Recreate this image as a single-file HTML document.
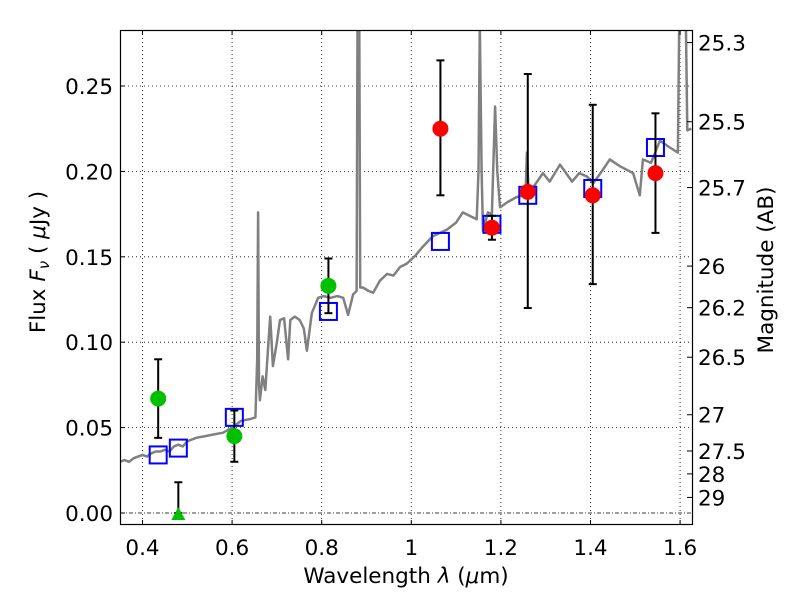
<!DOCTYPE html>
<html><head><meta charset="utf-8"><style>
body{margin:0;background:#fff;font-family:"DejaVu Sans","Liberation Sans",sans-serif}
svg text{font-family:"DejaVu Sans","Liberation Sans",sans-serif;font-size:21.5px;fill:#000}
</style></head><body>
<svg id="chart" width="800" height="600" xmlns="http://www.w3.org/2000/svg">
<g id="grid"></g>
<g id="spec"></g>
<g id="marks"></g>
<rect x="120.5" y="30.5" width="572" height="494" fill="none" stroke="#000" stroke-width="1.2"/>
<g id="axes"></g>
<text x="406" y="583" text-anchor="middle">Wavelength  <tspan font-style="italic">λ</tspan> (<tspan font-style="italic">μ</tspan>m)</text>
<text transform="translate(45,262) rotate(-90)" text-anchor="middle">Flux  <tspan font-style="italic">F<tspan font-size="15" dy="4">ν</tspan></tspan><tspan dy="-4">  (  </tspan><tspan font-style="italic">μ</tspan>Jy )</text>
<text transform="translate(773,270) rotate(-90)" text-anchor="middle">Magnitude (AB)</text>
</svg>
<script>
const xTicks=[0.4,0.6,0.8,1.0,1.2,1.4,1.6];
const xTickLabels=["0.4","0.6","0.8","1","1.2","1.4","1.6"];
const yTicks=[0,0.05,0.10,0.15,0.20,0.25];
const yTickLabels=["0.00","0.05","0.10","0.15","0.20","0.25"];
const magTicks=[25.3,25.5,25.7,26,26.2,26.5,27,27.5,28,29];
const magLabels=["25.3","25.5","25.7","26","26.2","26.5","27","27.5","28","29"];
const greenX=[0.435,0.605,0.815];
const greenY=[0.067,0.045,0.133];
const greenLo=[0.044,0.030,0.117];
const greenHi=[0.090,0.060,0.149];
const triX=[0.48];const triY=[0.0];const triHi=[0.018];
const redX=[1.065,1.18,1.26,1.405,1.545];
const redY=[0.225,0.167,0.188,0.186,0.199];
const redLo=[0.186,0.160,0.120,0.134,0.164];
const redHi=[0.265,0.174,0.257,0.239,0.234];
const modelX=[0.435,0.48,0.605,0.815,1.065,1.18,1.26,1.405,1.545];
const modelY=[0.034,0.038,0.056,0.118,0.159,0.169,0.186,0.190,0.214];
const specL=[0.349,0.36,0.37,0.38,0.39,0.40,0.41,0.42,0.43,0.44,0.45,0.46,0.47,0.48,0.49,0.50,0.52,0.54,0.56,0.58,0.60,0.62,0.64,0.652,0.656,0.658,0.660,0.662,0.668,0.674,0.680,0.685,0.691,0.700,0.707,0.716,0.725,0.730,0.740,0.751,0.760,0.767,0.778,0.792,0.805,0.820,0.835,0.848,0.859,0.870,0.878,0.880,0.884,0.886,0.892,0.905,0.915,0.930,0.946,0.960,0.975,0.990,1.010,1.026,1.048,1.064,1.080,1.100,1.115,1.130,1.146,1.150,1.153,1.157,1.160,1.171,1.180,1.187,1.192,1.198,1.215,1.235,1.255,1.258,1.262,1.270,1.294,1.309,1.332,1.359,1.375,1.392,1.406,1.425,1.443,1.466,1.495,1.510,1.517,1.535,1.555,1.577,1.595,1.598,1.600,1.613,1.616,1.625];
const specF=[0.030,0.031,0.030,0.032,0.033,0.034,0.033,0.035,0.036,0.036,0.037,0.036,0.039,0.040,0.039,0.042,0.044,0.045,0.046,0.047,0.050,0.054,0.055,0.056,0.090,0.176,0.075,0.066,0.080,0.072,0.095,0.115,0.086,0.100,0.113,0.114,0.090,0.113,0.115,0.113,0.108,0.095,0.117,0.126,0.127,0.126,0.127,0.126,0.116,0.128,0.130,0.300,0.300,0.132,0.132,0.130,0.129,0.136,0.140,0.139,0.144,0.146,0.151,0.156,0.162,0.164,0.166,0.170,0.176,0.174,0.172,0.200,0.300,0.200,0.165,0.176,0.175,0.238,0.200,0.179,0.182,0.185,0.186,0.211,0.187,0.190,0.199,0.194,0.204,0.194,0.199,0.197,0.193,0.200,0.207,0.203,0.199,0.186,0.207,0.205,0.218,0.214,0.211,0.300,0.300,0.300,0.224,0.225];
const L=120,R=692,T=30,B=525;
const X=v=>142.5+(v-0.4)*448;
const Y=v=>513-v*1708;
const NS="http://www.w3.org/2000/svg";
function mk(p,t,a){const e=document.createElementNS(NS,t);for(const k in a)e.setAttribute(k,a[k]);p.appendChild(e);return e;}
const grid=document.getElementById('grid'),axes=document.getElementById('axes');
xTicks.forEach((v,i)=>{
 const g=mk(grid,'line',{x1:X(v),x2:X(v),y1:T,y2:B,stroke:'#000','stroke-dasharray':'1,3','stroke-width':0.8});
 
 mk(axes,'line',{x1:X(v),x2:X(v),y1:B,y2:B-5,stroke:'#000'});
 mk(axes,'line',{x1:X(v),x2:X(v),y1:T,y2:T+5,stroke:'#000'});
 const t=mk(axes,'text',{x:X(v),y:555,'text-anchor':'middle'});t.textContent=xTickLabels[i];
 
});
yTicks.forEach((v,i)=>{
 const g=mk(grid,'line',{x1:L,x2:R,y1:Y(v),y2:Y(v),stroke:'#000','stroke-dasharray':v===0?'4,2,1,2':'1,3','stroke-width':0.8});
 
 mk(axes,'line',{x1:L,x2:L+5,y1:Y(v),y2:Y(v),stroke:'#000'});
 const t=mk(axes,'text',{x:113,y:Y(v)+8,'text-anchor':'end'});t.textContent=yTickLabels[i];
 
});
magTicks.forEach((m,i)=>{
 const f=Math.pow(10,(23.9-m)/2.5);const y=Y(f);
 mk(axes,'line',{x1:R,x2:R-5,y1:y,y2:y,stroke:'#000'});
 const t=mk(axes,'text',{x:698,y:y+8});t.textContent=magLabels[i];
 
});
const spec=document.getElementById('spec');
let d='';specL.forEach((l,i)=>{d+=(i?'L':'M')+X(l).toFixed(1)+','+Math.max(Y(specF[i]),T-5).toFixed(1);});
const cp=mk(spec,'clipPath',{id:'clip'});mk(cp,'rect',{x:L,y:T,width:R-L,height:B-T});
const sp=mk(spec,'path',{d:d,fill:'none',stroke:'#808080','stroke-width':2.5,'stroke-linejoin':'round','clip-path':'url(#clip)'});

const marks=document.getElementById('marks');
function err(x,lo,hi){
 const g=mk(marks,'g',{stroke:'#000','stroke-width':2});
 
 mk(g,'line',{x1:X(x),x2:X(x),y1:Y(lo),y2:Y(hi)});
 mk(g,'line',{x1:X(x)-4,x2:X(x)+4,y1:Y(lo),y2:Y(lo)});
 mk(g,'line',{x1:X(x)-4,x2:X(x)+4,y1:Y(hi),y2:Y(hi)});
}
modelX.forEach((x,i)=>{
 const r=mk(marks,'rect',{x:X(x)-8.5,y:Y(modelY[i])-8.5,width:17,height:17,fill:'none',stroke:'#0000ff','stroke-width':2});
 
});
greenX.forEach((x,i)=>{
 err(x,greenLo[i],greenHi[i]);
 const c=mk(marks,'circle',{cx:X(x),cy:Y(greenY[i]),r:8,fill:'#00c000'});
 
});
triX.forEach((x,i)=>{
 err(x,triY[i],triHi[i]);
 const cx=X(x),cy=Y(triY[i]);
 const p=mk(marks,'polygon',{points:`${cx-7},${cy+7} ${cx+7},${cy+7} ${cx},${cy-6}`,fill:'#00c000'});
 
});
redX.forEach((x,i)=>{
 err(x,redLo[i],redHi[i]);
 const c=mk(marks,'circle',{cx:X(x),cy:Y(redY[i]),r:8,fill:'#ff0000'});
 
});
</script>
</body></html>
